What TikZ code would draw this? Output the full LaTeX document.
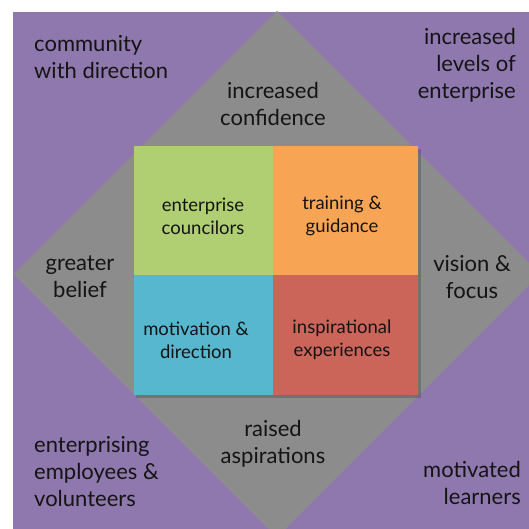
\documentclass[tikz,border=0pt]{standalone}
\usepackage{fontspec}
\setmainfont{Lato}
\definecolor{bgpurple}{HTML}{8F78AE}
\definecolor{diagray}{HTML}{8C8C8C}
\definecolor{cgreen}{HTML}{AFCF72}
\definecolor{corange}{HTML}{F7A554}
\definecolor{cblue}{HTML}{56B7CE}
\definecolor{cred}{HTML}{CB6459}
\definecolor{txt}{HTML}{141414}
\tikzset{
  outer/.style={font=\fontsize{22}{27}\selectfont, text=txt, inner sep=0pt},
  cell/.style={font=\fontsize{18.5}{23}\selectfont, text=txt, align=center, inner sep=0pt},
}
\begin{document}
\begin{tikzpicture}[x=1pt,y=-1pt]
\useasboundingbox (0,0) rectangle (529,529);
\fill[white] (0,0) rectangle (529,529);
\begin{scope}
\clip (13,12) rectangle (529,529);
\fill[bgpurple] (13,12) rectangle (529,529);
\fill[diagray] (277,11) -- (540,274) -- (277,537) -- (14,274) -- cycle;
\end{scope}
% shadow of inner square
\fill[black,opacity=0.18] (136,149) rectangle (421,398);
\fill[cgreen] (134,146) rectangle (273,275);
\fill[corange] (273,146) rectangle (418,275);
\fill[cblue] (134,275) rectangle (273,395);
\fill[cred] (273,275) rectangle (418,395);
\node[cell] (c1) at (203,216) {enterprise\\councilors};
\node[cell] (c2) at (342,216) {training \&\\guidance};
\node[cell] (c3) at (196,340) {motivation \&\\direction};
\node[cell] (c4) at (342,340) {inspirational\\experiences};
\node[outer,align=left,anchor=west] (tl) at (34,57) {community\\with direction};
\node[outer,align=right,anchor=east] (tr) at (516,65) {increased\\levels of\\enterprise};
\node[outer,align=center] (top) at (273,104) {increased\\confidence};
\node[outer,align=center] (lft) at (80,277) {greater\\belief};
\node[outer,align=center] (rgt) at (472,277) {vision \&\\focus};
\node[outer,align=center] (bot) at (273,444) {raised\\aspirations};
\node[outer,align=left,anchor=west] (bl) at (34,472) {enterprising\\employees \&\\volunteers};
\node[outer,align=right,anchor=east] (br) at (521,483) {motivated\\learners};
\end{tikzpicture}
\end{document}
